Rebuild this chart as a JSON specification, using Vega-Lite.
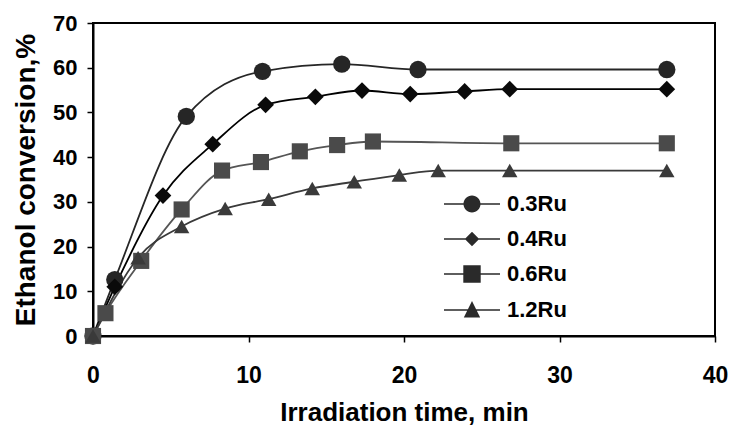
{
  "$schema": "https://vega.github.io/schema/vega-lite/v6.json",
  "width": 622,
  "height": 313,
  "autosize": {"type": "none"},
  "padding": {"left": 93, "top": 23, "right": 15, "bottom": 92},
  "background": "white",
  "config": {
    "view": {"stroke": "#000", "strokeWidth": 2},
    "font": "Liberation Sans",
    "axis": {
      "grid": false,
      "domainColor": "#000",
      "domainWidth": 2,
      "tickColor": "#000",
      "tickWidth": 1.5,
      "tickSize": 6,
      "labelFont": "Liberation Sans",
      "labelFontWeight": "bold",
      "labelColor": "#000",
      "titleFont": "Liberation Sans",
      "titleFontWeight": "bold",
      "titleColor": "#000"
    },
    "legend": {
      "symbolFillColor": "#2a2a2a",
      "symbolOpacity": 1
    }
  },
  "data": {
    "values": [
      {"series": "0.3Ru", "t": 0, "conv": 0},
      {"series": "0.3Ru", "t": 1.4, "conv": 12.6},
      {"series": "0.3Ru", "t": 6.0, "conv": 49.1},
      {"series": "0.3Ru", "t": 10.9, "conv": 59.2},
      {"series": "0.3Ru", "t": 16.0, "conv": 60.8},
      {"series": "0.3Ru", "t": 20.9, "conv": 59.6},
      {"series": "0.3Ru", "t": 36.9, "conv": 59.6},
      {"series": "0.4Ru", "t": 0, "conv": 0},
      {"series": "0.4Ru", "t": 1.4, "conv": 11.0},
      {"series": "0.4Ru", "t": 4.5, "conv": 31.4},
      {"series": "0.4Ru", "t": 7.7, "conv": 42.9},
      {"series": "0.4Ru", "t": 11.1, "conv": 51.7},
      {"series": "0.4Ru", "t": 14.3, "conv": 53.5},
      {"series": "0.4Ru", "t": 17.3, "conv": 54.9},
      {"series": "0.4Ru", "t": 20.4, "conv": 54.1},
      {"series": "0.4Ru", "t": 23.9, "conv": 54.7},
      {"series": "0.4Ru", "t": 26.8, "conv": 55.2},
      {"series": "0.4Ru", "t": 36.9, "conv": 55.2},
      {"series": "0.6Ru", "t": 0, "conv": 0},
      {"series": "0.6Ru", "t": 0.8, "conv": 5.1},
      {"series": "0.6Ru", "t": 3.1, "conv": 16.8},
      {"series": "0.6Ru", "t": 5.7, "conv": 28.3},
      {"series": "0.6Ru", "t": 8.3, "conv": 37.0},
      {"series": "0.6Ru", "t": 10.8, "conv": 38.9},
      {"series": "0.6Ru", "t": 13.3, "conv": 41.3},
      {"series": "0.6Ru", "t": 15.7, "conv": 42.7},
      {"series": "0.6Ru", "t": 18.0, "conv": 43.5},
      {"series": "0.6Ru", "t": 26.9, "conv": 43.1},
      {"series": "0.6Ru", "t": 36.9, "conv": 43.1},
      {"series": "1.2Ru", "t": 0, "conv": 0},
      {"series": "1.2Ru", "t": 2.9, "conv": 17.5},
      {"series": "1.2Ru", "t": 5.7, "conv": 24.5},
      {"series": "1.2Ru", "t": 8.5, "conv": 28.5},
      {"series": "1.2Ru", "t": 11.3, "conv": 30.6},
      {"series": "1.2Ru", "t": 14.1, "conv": 33.0},
      {"series": "1.2Ru", "t": 16.8, "conv": 34.5},
      {"series": "1.2Ru", "t": 19.7, "conv": 36.0},
      {"series": "1.2Ru", "t": 22.2, "conv": 37.0},
      {"series": "1.2Ru", "t": 26.8, "conv": 37.0},
      {"series": "1.2Ru", "t": 36.9, "conv": 37.0}
    ]
  },
  "encoding": {
    "x": {
      "field": "t",
      "type": "quantitative",
      "scale": {"domain": [0, 40], "nice": false},
      "axis": {
        "title": "Irradiation time, min",
        "values": [0, 10, 20, 30, 40],
        "labelFontSize": 23,
        "labelPadding": 22,
        "titleFontSize": 26,
        "titlePadding": 12,
        "labelFlush": false
      }
    },
    "y": {
      "field": "conv",
      "type": "quantitative",
      "scale": {"domain": [0, 70], "nice": false},
      "axis": {
        "title": "Ethanol conversion,%",
        "values": [0, 10, 20, 30, 40, 50, 60, 70],
        "labelFontSize": 22,
        "labelPadding": 10,
        "titleFontSize": 28,
        "titlePadding": 12,
        "labelFlush": false
      }
    }
  },
  "layer": [
    {
      "mark": {"type": "line", "interpolate": "monotone", "strokeWidth": 1.8},
      "encoding": {
        "color": {
          "field": "series",
          "type": "nominal",
          "scale": {"domain": ["0.3Ru", "0.4Ru", "0.6Ru", "1.2Ru"], "range": ["#262626", "#000000", "#555555", "#3a3a3a"]},
          "legend": null
        }
      }
    },
    {
      "mark": {"type": "point", "filled": true, "opacity": 1},
      "encoding": {
        "color": {
          "field": "series",
          "type": "nominal",
          "scale": {"domain": ["0.3Ru", "0.4Ru", "0.6Ru", "1.2Ru"], "range": ["#262626", "#0a0a0a", "#4a4a4a", "#3a3a3a"]},
          "legend": null
        },
        "shape": {
          "field": "series",
          "type": "nominal",
          "scale": {"domain": ["0.3Ru", "0.4Ru", "0.6Ru", "1.2Ru"], "range": ["circle", "diamond", "square", "triangle-up"]},
          "legend": null
        },
        "size": {
          "field": "series",
          "type": "nominal",
          "scale": {"domain": ["0.3Ru", "0.4Ru", "0.6Ru", "1.2Ru"], "range": [300, 240, 320, 300]},
          "legend": null
        }
      }
    },
    {
      "mark": {"type": "point", "filled": true, "fill": "#2a2a2a", "opacity": 0},
      "encoding": {
        "shape": {
          "field": "series",
          "type": "nominal",
          "scale": {
            "domain": ["0.3Ru", "0.4Ru", "0.6Ru", "1.2Ru"],
            "range": [
              "M-2.8,-0.08L2.8,-0.08L2.8,0.08L-2.8,0.08ZM0.85,0A0.85,0.85,0,1,1,-0.85,0A0.85,0.85,0,1,1,0.85,0Z",
              "M-2.8,-0.08L2.8,-0.08L2.8,0.08L-2.8,0.08ZM0,-0.72L0.72,0L0,0.72L-0.72,0Z",
              "M-2.8,-0.08L2.8,-0.08L2.8,0.08L-2.8,0.08ZM-0.87,-0.87L0.87,-0.87L0.87,0.87L-0.87,0.87Z",
              "M-2.8,-0.08L2.8,-0.08L2.8,0.08L-2.8,0.08ZM0,-0.9L0.82,0.76L-0.82,0.76Z"
            ]
          },
          "legend": {
            "title": null,
            "orient": "none",
            "legendX": 368,
            "legendY": 170,
            "padding": 0,
            "symbolSize": 400,
            "rowPadding": 12,
            "labelOffset": 24,
            "labelFont": "Liberation Sans",
            "labelFontSize": 22,
            "labelFontWeight": "bold",
            "labelColor": "#000",
            "symbolFillColor": "#2a2a2a",
            "symbolOpacity": 1
          }
        }
      }
    }
  ],
  "resolve": {"scale": {"shape": "independent", "color": "independent"}}
}
